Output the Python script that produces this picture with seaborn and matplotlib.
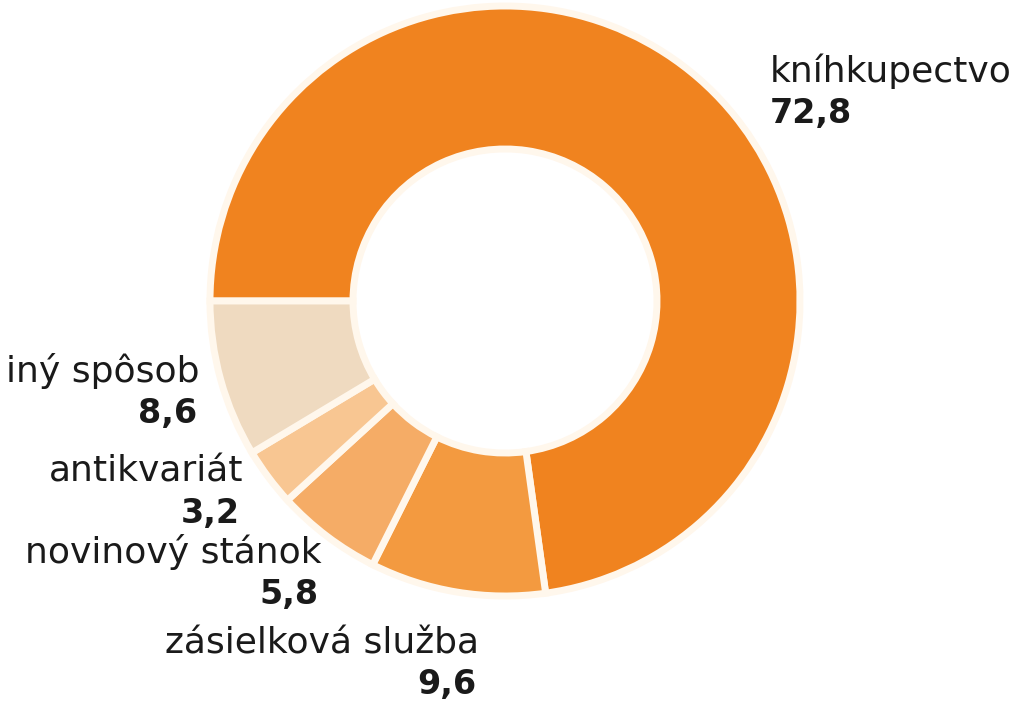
import matplotlib
matplotlib.use('Agg')
import matplotlib.pyplot as plt
import seaborn as sns

# Data (percent)
categories = ['kníhkupectvo', 'zásielková služba', 'novinový stánok', 'antikvariát', 'iný spôsob']
shares = [72.8, 9.6, 5.8, 3.2, 8.6]
colors = ['#F0831F', '#F39A40', '#F5AC66', '#F8C692', '#EFDAC0']

sns.set_theme(style='white')
plt.rcParams['font.family'] = ['DejaVu Sans']

W, H = 1024, 706
fig = plt.figure(figsize=(W / 100, H / 100), dpi=100)
ax = fig.add_axes([0, 0, 1, 1])

# donut in pixel-like data coordinates (y up)
R_out, R_in = 295, 152
ax.pie(shares, colors=colors, startangle=180, counterclock=False,
       radius=R_out, center=(505, H - 301),
       wedgeprops=dict(width=R_out - R_in, edgecolor='#FFF7EC', linewidth=5))
ax.set_xlim(0, W)
ax.set_ylim(0, H)
ax.set_aspect('equal')
ax.axis('off')

# label anchors (x, baseline y from top, alignment)
label_pos = {
    'kníhkupectvo': (770, 82, 'left'),
    'zásielková služba': (479, 653, 'right'),
    'novinový stánok': (322, 563, 'right'),
    'antikvariát': (243, 482, 'right'),
    'iný spôsob': (200, 382, 'right'),
}
for cat, val in zip(categories, shares):
    x, yb, ha = label_pos[cat]
    ax.text(x, H - yb, cat, ha=ha, va='baseline', fontsize=26, color='#1a1a1a')
    xv = x if ha == 'left' else x - 3
    ax.text(xv, H - yb - 41, f'{val:.1f}'.replace('.', ','), ha=ha, va='baseline',
            fontsize=24, fontweight='bold', color='#1a1a1a')

fig.savefig('out.png', dpi=100, facecolor='white')
